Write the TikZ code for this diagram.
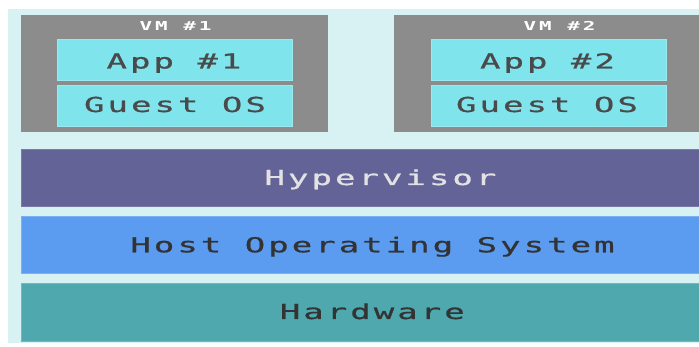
\documentclass[tikz,border=0pt]{standalone}
\usepackage{fontspec}
\newfontfamily\bigmono[FakeStretch=1.65,FakeBold=0.8,LetterSpace=14.7]{DejaVu Sans Mono}
\newfontfamily\vmmono[FakeStretch=1.7,LetterSpace=24]{DejaVu Sans Mono}
\definecolor{bgc}{HTML}{D8F1F3}
\definecolor{vmgray}{HTML}{8C8C8C}
\definecolor{appc}{HTML}{80E4EC}
\definecolor{appedge}{HTML}{9AE9EF}
\definecolor{hypc}{HTML}{636398}
\definecolor{hostc}{HTML}{5B9CF1}
\definecolor{hwc}{HTML}{4EA8AD}
\definecolor{hyptext}{HTML}{E2E2E2}
\definecolor{darktext}{HTML}{333333}
\definecolor{apptext}{HTML}{4A4A4A}
\tikzset{
  box/.style={rectangle, inner sep=0pt, outer sep=0pt, line width=0.8pt},
  bigtxt/.style={anchor=base, inner sep=0pt, font=\bigmono\fontsize{20.6}{24}\selectfont},
  vmtxt/.style={anchor=base, inner sep=0pt, text=white, font=\vmmono\bfseries\fontsize{12.3}{14}\selectfont},
}
\begin{document}
\begin{tikzpicture}[x=1pt,y=-1pt]
\useasboundingbox (0,0) rectangle (699,347);
\clip (0,0) rectangle (699,347);
% background
\fill[bgc] (8,9) rectangle (699,343);
% VM 1
\node[box, fill=vmgray, minimum width=307pt, minimum height=117pt] (vm1) at (174.5,73.5) {};
\node[box, fill=appc, draw=appedge, minimum width=235pt, minimum height=41pt] (app1) at (174.5,59.5) {};
\node[box, fill=appc, draw=appedge, minimum width=235pt, minimum height=41pt] (guest1) at (174.5,105.5) {};
\node[vmtxt] (vm1t) at (175.5,30.7) {VM \#1};
\node[bigtxt, text=apptext] (app1t) at (174,68.5) {App \#1};
\node[bigtxt, text=apptext] (guest1t) at (175,112) {Guest OS};
% VM 2
\node[box, fill=vmgray, minimum width=316pt, minimum height=117pt] (vm2) at (552,73.5) {};
\node[box, fill=appc, draw=appedge, minimum width=235pt, minimum height=41pt] (app2) at (548.5,59.5) {};
\node[box, fill=appc, draw=appedge, minimum width=235pt, minimum height=41pt] (guest2) at (548.5,105.5) {};
\node[vmtxt] (vm2t) at (559.5,30.7) {VM \#2};
\node[bigtxt, text=apptext] (app2t) at (547.5,68.5) {App \#2};
\node[bigtxt, text=apptext] (guest2t) at (547,112) {Guest OS};
% layers
\node[box, fill=hypc, draw=hypc!85!white, minimum width=699pt, minimum height=57pt] (hyp) at (370.5,177.5) {};
\node[box, fill=hostc, draw=hostc!80!white, minimum width=699pt, minimum height=57pt] (host) at (370.5,244.5) {};
\node[box, fill=hwc, draw=hwc!80!white, minimum width=699pt, minimum height=58pt] (hw) at (370.5,312) {};
\node[bigtxt, text=hyptext] (hypt) at (380.5,185) {Hypervisor};
\node[bigtxt, text=darktext] (hostt) at (372.5,252.3) {Host Operating System};
\node[bigtxt, text=darktext] (hwt) at (372.3,319) {Hardware};
\end{tikzpicture}
\end{document}
